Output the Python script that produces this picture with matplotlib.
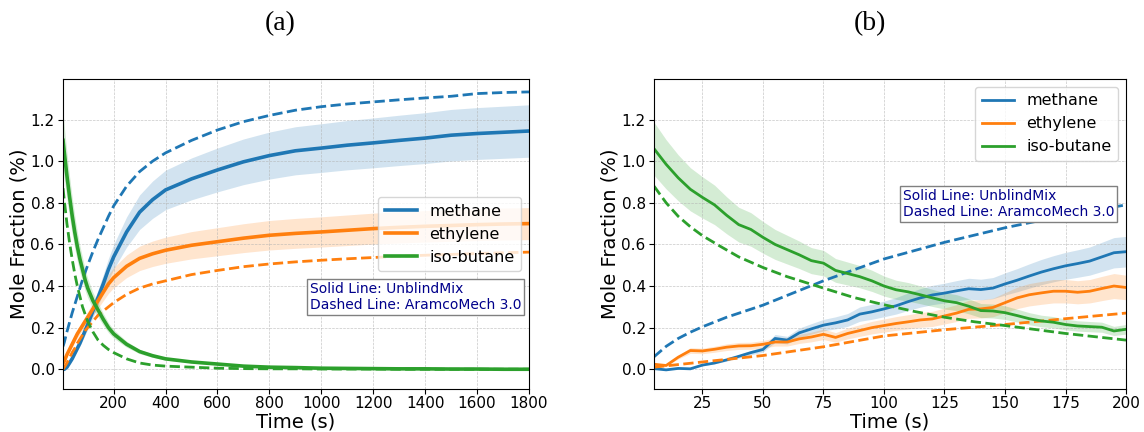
import numpy as np
import matplotlib
matplotlib.use("Agg")
import matplotlib.pyplot as plt

species = ["methane", "ethylene", "iso-butane"]
colors = ["#1f77b4", "#ff7f0e", "#2ca02c"]

# ---------------- panel (a): full 1800 s run ----------------
t_a = [5, 10, 20, 30, 40, 50, 60, 70, 80, 90, 100, 120, 140, 160, 180, 200,
       250, 300, 350, 400, 500, 600, 700, 800, 900, 1000, 1100, 1200, 1300,
       1400, 1500, 1600, 1700, 1800]

meas_a_methane = [0.0, 0.0, 0.01, 0.03, 0.05, 0.075, 0.10, 0.125, 0.155, 0.185, 0.215,
                  0.28, 0.345, 0.41, 0.48, 0.54, 0.66, 0.755, 0.815, 0.862, 0.915, 0.958,
                  0.997, 1.027, 1.05, 1.063, 1.077, 1.088, 1.10, 1.111, 1.125, 1.133,
                  1.139, 1.145]
meas_a_ethylene = [0.03, 0.04, 0.07, 0.095, 0.12, 0.145, 0.17, 0.19, 0.21, 0.23, 0.25,
                   0.29, 0.33, 0.37, 0.41, 0.44, 0.495, 0.533, 0.555, 0.572, 0.596, 0.613,
                   0.63, 0.644, 0.653, 0.66, 0.668, 0.676, 0.682, 0.687, 0.691, 0.695,
                   0.698, 0.70]
meas_a_isobutane = [1.10, 1.04, 0.93, 0.83, 0.74, 0.66, 0.59, 0.53, 0.48, 0.43, 0.39,
                    0.33, 0.285, 0.24, 0.20, 0.17, 0.12, 0.085, 0.065, 0.05, 0.035, 0.025,
                    0.015, 0.01, 0.008, 0.005, 0.004, 0.003, 0.002, 0.002, 0.001, 0.001,
                    0.0, 0.0]

sim_a_methane = [0.11, 0.13, 0.18, 0.225, 0.27, 0.31, 0.35, 0.39, 0.43, 0.465, 0.50,
                 0.565, 0.625, 0.68, 0.735, 0.785, 0.88, 0.95, 1.0, 1.04, 1.10, 1.15,
                 1.19, 1.22, 1.245, 1.262, 1.275, 1.285, 1.295, 1.304, 1.312, 1.325,
                 1.33, 1.333]
sim_a_ethylene = [0.0, 0.01, 0.03, 0.055, 0.08, 0.10, 0.125, 0.145, 0.165, 0.185, 0.20,
                  0.23, 0.26, 0.28, 0.30, 0.32, 0.36, 0.39, 0.41, 0.425, 0.455, 0.475,
                  0.493, 0.506, 0.516, 0.524, 0.531, 0.537, 0.543, 0.548, 0.552, 0.556,
                  0.56, 0.563]
sim_a_isobutane = [0.87, 0.81, 0.70, 0.61, 0.53, 0.46, 0.40, 0.35, 0.30, 0.265, 0.23,
                   0.18, 0.14, 0.115, 0.095, 0.08, 0.05, 0.03, 0.02, 0.015, 0.01, 0.005,
                   0.003, 0.002, 0.002, 0.001, 0.001, 0.001, 0.0, 0.0, 0.0, 0.0, 0.0, 0.0]

# relative measurement uncertainty (half-width of the shaded band)
unc_a = [0.11, 0.11, 0.12]

# ---------------- panel (b): first 200 s ----------------
t_b = [5, 10, 15, 20, 25, 30, 35, 40, 45, 50, 55, 60, 65, 70, 75, 80, 85, 90, 95, 100,
       105, 110, 115, 120, 125, 130, 135, 140, 145, 150, 155, 160, 165, 170, 175, 180,
       185, 190, 195, 200]

meas_b_methane = [0.003, -0.003, 0.004, 0.002, 0.02, 0.03, 0.045, 0.062, 0.08, 0.095,
                  0.148, 0.14, 0.175, 0.194, 0.212, 0.223, 0.237, 0.265, 0.276, 0.29,
                  0.305, 0.325, 0.343, 0.357, 0.366, 0.377, 0.387, 0.383, 0.39, 0.41,
                  0.428, 0.448, 0.467, 0.483, 0.497, 0.508, 0.52, 0.54, 0.56, 0.565]
meas_b_ethylene = [0.024, 0.018, 0.058, 0.09, 0.088, 0.096, 0.106, 0.112, 0.113, 0.12,
                   0.131, 0.131, 0.146, 0.155, 0.168, 0.153, 0.172, 0.186, 0.20, 0.21,
                   0.22, 0.228, 0.237, 0.242, 0.256, 0.27, 0.288, 0.29, 0.297, 0.32,
                   0.343, 0.358, 0.367, 0.375, 0.375, 0.37, 0.375, 0.388, 0.40, 0.393]
meas_b_isobutane = [1.06, 0.985, 0.92, 0.865, 0.826, 0.79, 0.74, 0.695, 0.672, 0.634,
                    0.60, 0.575, 0.55, 0.522, 0.51, 0.475, 0.46, 0.445, 0.425, 0.40,
                    0.382, 0.372, 0.358, 0.343, 0.329, 0.32, 0.303, 0.282, 0.28, 0.272,
                    0.258, 0.243, 0.232, 0.226, 0.215, 0.208, 0.205, 0.202, 0.184, 0.192]

t_b_sim_methane = [5, 10, 15, 20, 25, 35, 50, 60, 75, 100, 125, 150, 175, 200]
sim_b_methane = [0.06, 0.11, 0.148, 0.178, 0.204, 0.25, 0.308, 0.355, 0.425, 0.53,
                 0.61, 0.68, 0.74, 0.79]
t_b_sim_ethylene = [5, 25, 50, 75, 100, 125, 150, 175, 200]
sim_b_ethylene = [0.01, 0.035, 0.066, 0.108, 0.16, 0.19, 0.215, 0.243, 0.27]
t_b_sim_isobutane = [5, 10, 15, 20, 25, 32.5, 40, 50, 60, 75, 87.5, 100, 112.5, 125,
                     137.5, 150, 175, 200]
sim_b_isobutane = [0.88, 0.80, 0.735, 0.685, 0.642, 0.59, 0.54, 0.489, 0.445, 0.39,
                   0.345, 0.31, 0.278, 0.25, 0.228, 0.21, 0.172, 0.14]

unc_b = [0.13, 0.15, 0.12]

note = "Solid Line: UnblindMix\nDashed Line: AramcoMech 3.0"

fig = plt.figure(figsize=(11.44, 4.32), dpi=100)
ax_a = fig.add_axes([0.0551, 0.0995, 0.4073, 0.7176])
ax_b = fig.add_axes([0.5717, 0.0995, 0.4126, 0.7176])


def draw_panel(ax, t_meas, meas, sims, unc, meas_lw):
    for name, col, y, (ts, ys), u in zip(species, colors, meas, sims, unc):
        y = np.asarray(y)
        ax.fill_between(t_meas, y * (1 - u), y * (1 + u), color=col, alpha=0.2,
                        linewidth=0)
        ax.plot(t_meas, y, color=col, lw=meas_lw, label=name)
        ax.plot(ts, ys, color=col, lw=2, ls="--")
    ax.grid(True, ls="--", lw=0.5, alpha=0.7)
    ax.set_ylim(-0.095, 1.395)
    ax.set_yticks([0.0, 0.2, 0.4, 0.6, 0.8, 1.0, 1.2])
    ax.set_xlabel("Time (s)", fontsize=14, labelpad=1)
    ax.set_ylabel("Mole Fraction (%)", fontsize=14, labelpad=1.5)
    ax.tick_params(labelsize=11)
    ax.tick_params(axis="x", pad=1.5)
    ax.tick_params(axis="y", pad=2.5)


draw_panel(ax_a, t_a,
           [meas_a_methane, meas_a_ethylene, meas_a_isobutane],
           [(t_a, sim_a_methane), (t_a, sim_a_ethylene), (t_a, sim_a_isobutane)],
           unc_a, 2.6)
ax_a.set_xlim(5, 1800)
ax_a.set_xticks([200, 400, 600, 800, 1000, 1200, 1400, 1600, 1800])
ax_a.legend(loc="center right", fontsize=11.5)
ax_a.text(0.529, 0.345, note, transform=ax_a.transAxes, fontsize=10,
          color="darkblue", va="top", ha="left",
          bbox=dict(boxstyle="square,pad=0.2", facecolor="white", edgecolor="gray"))

draw_panel(ax_b, t_b,
           [meas_b_methane, meas_b_ethylene, meas_b_isobutane],
           [(t_b_sim_methane, sim_b_methane), (t_b_sim_ethylene, sim_b_ethylene),
            (t_b_sim_isobutane, sim_b_isobutane)],
           unc_b, 2)
ax_b.set_xlim(5, 200)
ax_b.set_xticks([25, 50, 75, 100, 125, 150, 175, 200])
ax_b.legend(loc="upper right", fontsize=11.5)
ax_b.text(0.527, 0.645, note, transform=ax_b.transAxes, fontsize=10,
          color="darkblue", va="top", ha="left",
          bbox=dict(boxstyle="square,pad=0.2", facecolor="white", edgecolor="gray"))

fig.text(0.245, 0.945, "(a)", fontsize=20, family="Liberation Serif",
         ha="center", va="center")
fig.text(0.76, 0.945, "(b)", fontsize=20, family="Liberation Serif",
         ha="center", va="center")

fig.savefig("out.png", dpi=100)
